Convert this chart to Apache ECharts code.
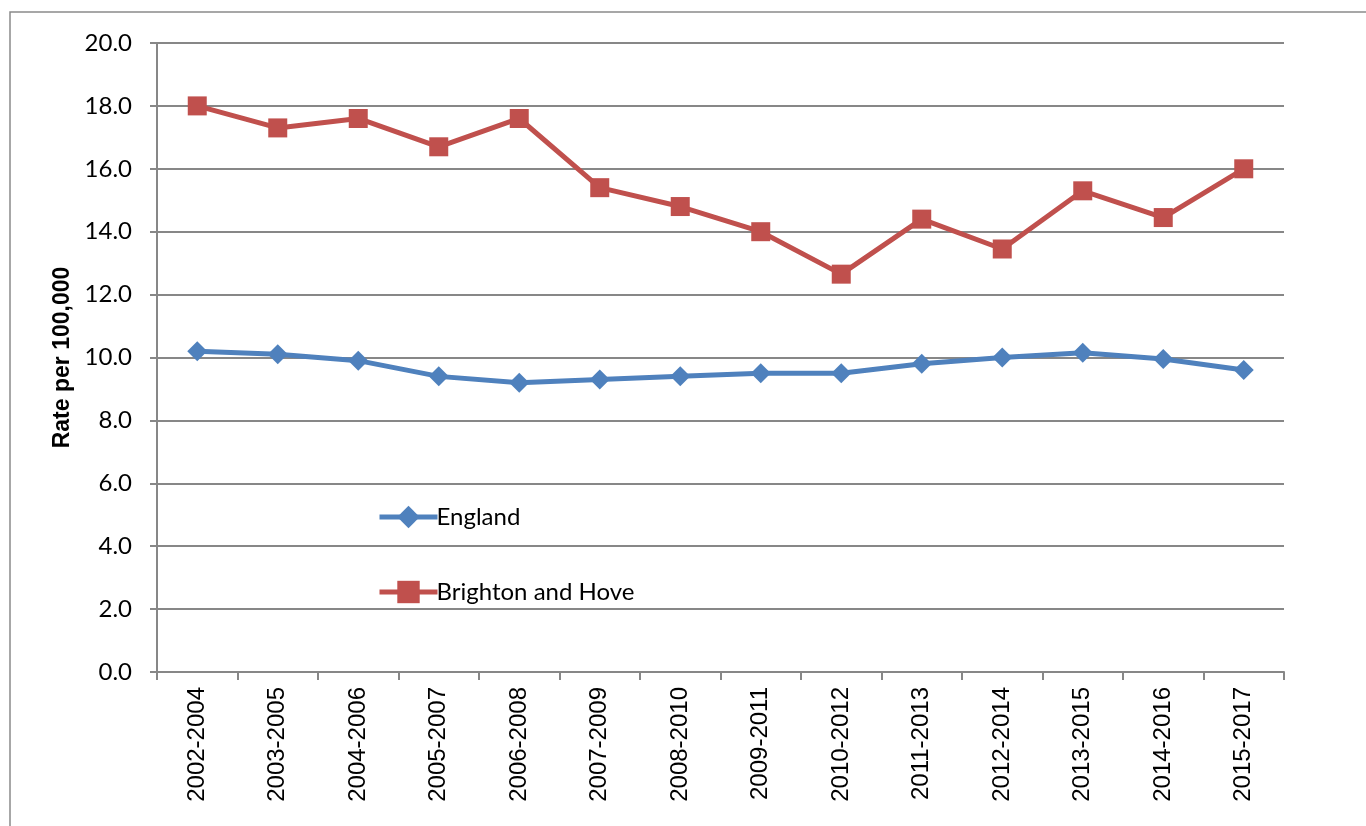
<!DOCTYPE html>
<html>
<head>
<meta charset="utf-8">
<script src="https://cdn.jsdelivr.net/npm/echarts@6/dist/echarts.min.js"></script>
<style>
  html, body { margin: 0; padding: 0; background: #fff; }
  #chart { width: 1366px; height: 826px; }
</style>
</head>
<body>
<div id="chart"></div>
<script>
// periods on the x axis
var periods = ['2002-2004', '2003-2005', '2004-2006', '2005-2007', '2006-2008', '2007-2009', '2008-2010',
    '2009-2011', '2010-2012', '2011-2013', '2012-2014', '2013-2015', '2014-2016', '2015-2017'];

// rate per 100,000
var england = [10.2, 10.1, 9.9, 9.4, 9.2, 9.3, 9.4, 9.5, 9.5, 9.8, 10.0, 10.15, 9.95, 9.6];
var brighton = [18.0, 17.3, 17.6, 16.7, 17.6, 15.4, 14.8, 14.0, 12.65, 14.4, 13.45, 15.3, 14.45, 16.0];

var axisGrey = '#878787';

var chart = echarts.init(document.getElementById('chart'));

var option = {
    animation: false,
    // outer chart border
    graphic: [{
        type: 'rect',
        shape: { x: 10, y: 12, width: 1400, height: 900 },
        style: { fill: 'none', stroke: '#8a8a8a', lineWidth: 1.5 },
        silent: true
    }],
    grid: {
        left: 157,
        top: 43,
        right: 82,
        bottom: 154
    },
    legend: {
        orient: 'vertical',
        left: 372,
        top: 500,
        itemGap: 51,
        itemWidth: 58,
        itemHeight: 28,
        lineStyle: { width: 5 },
        textStyle: { fontFamily: 'Lato', fontSize: 24, color: '#000', padding: [0, 0, 0, -6] },
        data: ['England', 'Brighton and Hove']
    },
    xAxis: {
        type: 'category',
        data: periods,
        boundaryGap: true,
        axisLine: { lineStyle: { color: axisGrey, width: 2 } },
        axisTick: { show: true, length: 8, lineStyle: { color: axisGrey, width: 2 } },
        axisLabel: {
            rotate: 90,
            margin: 15,
            fontFamily: 'Liberation Sans',
            fontSize: 24,
            color: '#000'
        }
    },
    yAxis: {
        type: 'value',
        min: 0,
        max: 20,
        interval: 2,
        name: 'Rate per 100,000',
        nameLocation: 'middle',
        nameGap: 79,
        nameRotate: 90,
        nameTextStyle: { fontFamily: 'Liberation Sans', fontWeight: 'bold', fontSize: 23, color: '#000' },
        axisLine: { show: true, lineStyle: { color: axisGrey, width: 2 } },
        axisTick: { show: true, length: 7, lineStyle: { color: axisGrey, width: 2 } },
        splitLine: { lineStyle: { color: axisGrey, width: 2 } },
        axisLabel: {
            margin: 25,
            fontFamily: 'Lato',
            fontSize: 24,
            color: '#000',
            formatter: function (v) { return v.toFixed(1); }
        }
    },
    series: [
        {
            name: 'England',
            type: 'line',
            data: england,
            symbol: 'diamond',
            symbolSize: 20,
            itemStyle: { color: '#4F81BD' },
            lineStyle: { color: '#4F81BD', width: 5 }
        },
        {
            name: 'Brighton and Hove',
            type: 'line',
            data: brighton,
            symbol: 'rect',
            symbolSize: 19,
            itemStyle: { color: '#C0504D' },
            lineStyle: { color: '#C0504D', width: 5 }
        }
    ]
};

chart.setOption(option);
</script>
</body>
</html>
